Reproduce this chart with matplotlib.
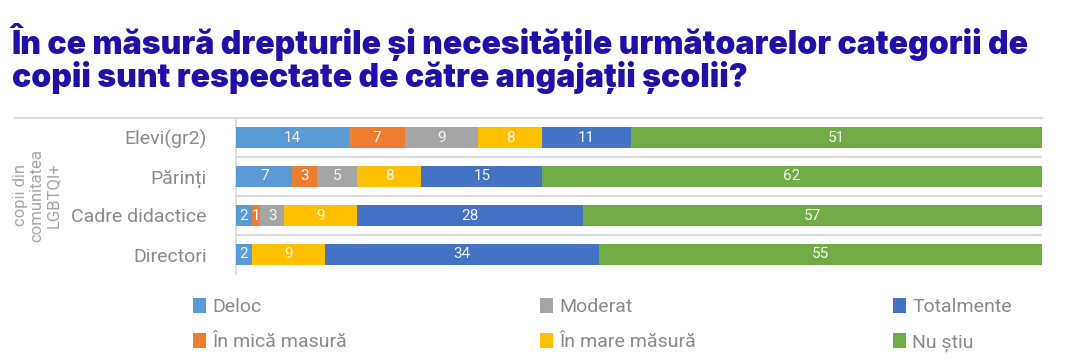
import matplotlib.pyplot as plt
from matplotlib.patches import Patch

# data
categories = ['Elevi(gr2)', 'Părinți', 'Cadre didactice', 'Directori']
series_names = ['Deloc', 'În mică masură', 'Moderat', 'În mare măsură', 'Totalmente', 'Nu știu']
deloc = [14, 7, 2, 2]
mica = [7, 3, 1, 0]
moderat = [9, 5, 3, 0]
mare = [8, 8, 9, 9]
totalmente = [11, 15, 28, 34]
nu_stiu = [51, 62, 57, 55]
colors = ['#5B9BD5', '#ED7D31', '#A5A5A5', '#FFC000', '#4472C4', '#70AD47']
title = 'În ce măsură drepturile și necesitățile următoarelor categorii de\ncopii sunt respectate de către angajații școlii?'
group_label = 'copii din\ncomunitatea\nLGBTQI+'

W, H = 1080, 363
fig = plt.figure(figsize=(W / 100, H / 100), dpi=100)
ax = fig.add_axes([236 / W, 1 - 274 / H, (1042 - 236) / W, (274 - 118) / H])

series = [deloc, mica, moderat, mare, totalmente, nu_stiu]
ypos = list(range(len(categories)))
left = [0] * len(categories)
for name, vals, col in zip(series_names, series, colors):
    bars = ax.barh(ypos, vals, left=left, height=0.56, color=col, label=name, zorder=3)
    for b, v in zip(bars, vals):
        if v > 0:
            ax.text(b.get_x() + b.get_width() / 2, b.get_y() + b.get_height() / 2, str(v),
                    ha='center', va='center', color='#f4f4f4', fontsize=11,
                    family='Roboto', zorder=4)
    left = [l + v for l, v in zip(left, vals)]

ax.set_xlim(0, 100)
ax.set_ylim(3.5, -0.5)
ax.set_yticks(ypos)
ax.set_yticklabels(categories, family='Roboto', fontsize=14, color='#8a8a8a')
ax.tick_params(axis='y', length=0, pad=21)
ax.set_xticks([])
for s in ['top', 'right', 'bottom']:
    ax.spines[s].set_visible(False)
ax.spines['left'].set_color('#d9d9d9')
ax.spines['left'].set_linewidth(1.2)

# row separators
for y in [0.5, 1.5, 2.5]:
    ax.axhline(y, color='#dcdcdc', lw=1.5, zorder=1)
ax.plot([(15 - 236) / (1042 - 236), 1], [1, 1], transform=ax.transAxes,
        color='#dcdcdc', lw=1.5, clip_on=False)

fig.text(37 / W, 1 - 195 / H, group_label, rotation=90, ha='center', va='center',
         family='Roboto', fontsize=12, color='#a6a6a6', linespacing=1.1)

fig.text(12 / W, 1 - 23 / H, title, ha='left', va='top', family='Inter',
         fontweight='black', fontsize=23, color='#2010a8', linespacing=1.0)

# legend: three columns of two entries
handles = [Patch(facecolor=c, label=n) for n, c in zip(series_names, colors)]
for i, x0 in enumerate([193, 540, 893]):
    fig.legend(handles=handles[2 * i:2 * i + 2], loc='upper left',
               bbox_to_anchor=(x0 / W, 1 - 298 / H), frameon=False,
               handlelength=0.65, handleheight=0.8, handletextpad=0.35,
               labelspacing=0.85, borderaxespad=0, borderpad=0,
               prop={'family': 'Roboto', 'size': 14}, labelcolor='#8a8a8a')

fig.savefig('out.png', dpi=100)
